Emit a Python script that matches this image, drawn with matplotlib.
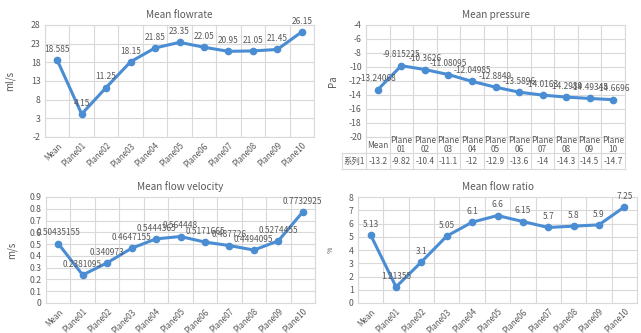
import matplotlib
matplotlib.use("Agg")
import matplotlib.pyplot as plt
import numpy as np

plt.rcParams['font.family'] = ['Noto Sans CJK SC', 'DejaVu Sans']

# data
categories = ["Mean", "Plane01", "Plane02", "Plane03", "Plane04", "Plane05",
              "Plane06", "Plane07", "Plane08", "Plane09", "Plane10"]
table_headers = ["Mean", "Plane\n01", "Plane\n02", "Plane\n03", "Plane\n04", "Plane\n05",
                 "Plane\n06", "Plane\n07", "Plane\n08", "Plane\n09", "Plane\n10"]
series_name = "系列1"

flowrate = [18.585, 4.15, 11.25, 18.15, 21.85, 23.35, 22.05, 20.95, 21.05, 21.45, 26.15]
pressure = [-13.24068, -9.815225, -10.3626, -11.08095, -12.04985, -12.8849,
            -13.5896, -14.0163, -14.2989, -14.49345, -14.6696]
velocity = [0.50435155, 0.2381095, 0.340973, 0.4647155, 0.5444365, 0.564448,
            0.5171665, 0.487726, 0.4494095, 0.5274455, 0.7732925]
ratio = [5.13, 1.21355, 3.1, 5.05, 6.1, 6.6, 6.15, 5.7, 5.8, 5.9, 7.25]

LINE = '#4a8dd3'
GRID = '#d9d9d9'
TXT = '#595959'
W, H = 641, 333


def box(l, t, r, b):
    return [l / W, 1 - b / H, (r - l) / W, (b - t) / H]


fig = plt.figure(figsize=(W / 100, H / 100), dpi=100)


def line_panel(rect, values, title, ylabel, yticks, xticks=True, lab_x=-0.11,
               ylab_size=7):
    ax = fig.add_axes(box(*rect))
    x = np.arange(len(values))
    ax.plot(x, values, color=LINE, lw=2.2, marker='o', ms=4.5, zorder=3,
            solid_capstyle='round')
    for xi, v in zip(x, values):
        ax.annotate(str(v), (xi, v), xytext=(0, 4.5), textcoords='offset points',
                    ha='center', va='bottom', fontsize=6, color=TXT, zorder=4)
    ax.set_xlim(-0.5, len(values) - 0.5)
    ax.set_ylim(yticks[0], yticks[-1])
    ax.set_yticks(yticks)
    ax.set_yticklabels([f"{t:g}" for t in yticks])
    ax.set_xticks(np.arange(-0.5, len(values)), minor=True)
    ax.grid(True, which='minor', axis='x', color=GRID, lw=0.8)
    ax.grid(True, which='major', axis='y', color=GRID, lw=0.8)
    ax.set_axisbelow(True)
    for sp in ax.spines.values():
        sp.set_color(GRID)
        sp.set_linewidth(0.8)
    ax.tick_params(which='both', length=0, labelsize=6.3, colors=TXT, pad=3)
    if xticks:
        ax.set_xticks(x)
        ax.set_xticklabels(categories, rotation=45, ha='right', rotation_mode='anchor',
                           fontsize=5.8)
    else:
        ax.set_xticks([])
    ax.set_title(title, fontsize=7.2, color=TXT, pad=5)
    ax.set_ylabel(ylabel, fontsize=ylab_size, color=TXT)
    ax.yaxis.set_label_coords(lab_x, 0.5)
    return ax


line_panel((45, 25, 314, 137), flowrate, "Mean flowrate", "ml/s",
           np.arange(-2, 29, 5))

ax2 = line_panel((366, 25, 625, 137), pressure, "Mean pressure", "Pa",
                 np.arange(-20, -3, 2), xticks=False)

# data table under the pressure chart
trans = ax2.get_xaxis_transform()
h1, h2 = -0.145, -0.29
x_left = -1.52
for b in np.arange(-0.5, len(pressure)):
    ax2.plot([b, b], [0, h2], transform=trans, color=GRID, lw=0.8, clip_on=False)
ax2.plot([x_left, x_left], [h1, h2], transform=trans, color=GRID, lw=0.8, clip_on=False)
for yy in (h1, h2):
    ax2.plot([x_left, len(pressure) - 0.5], [yy, yy], transform=trans, color=GRID,
             lw=0.8, clip_on=False)
for i, (hd, v) in enumerate(zip(table_headers, pressure)):
    ax2.text(i, h1 / 2, hd, transform=trans, ha='center', va='center', fontsize=6,
             color=TXT, linespacing=0.95)
    ax2.text(i, (h1 + h2) / 2, f"{v:.3g}", transform=trans, ha='center', va='center',
             fontsize=6, color=TXT)
ax2.text((x_left - 0.5) / 2, (h1 + h2) / 2, series_name, transform=trans, ha='center',
         va='center', fontsize=6, color=TXT)

line_panel((46, 197, 315, 303), velocity, "Mean flow velocity", "m/s",
           np.round(np.arange(0, 0.91, 0.1), 1), lab_x=-0.108)

line_panel((358, 197, 637, 303), ratio, "Mean flow ratio", "%",
           np.arange(0, 9, 1), lab_x=-0.082, ylab_size=5)

fig.savefig("out.png", dpi=100, facecolor='white')
